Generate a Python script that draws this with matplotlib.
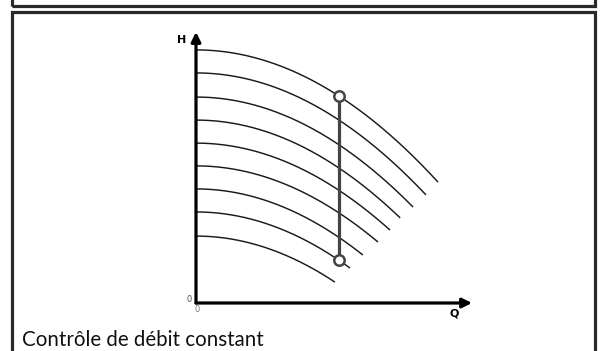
"""Constant-flow control diagram: pump curves at several speeds."""

import matplotlib
matplotlib.use("Agg")
import matplotlib.pyplot as plt
from matplotlib.patches import Rectangle
import numpy as np

# ---------------------------------------------------------------------------
# Data (arbitrary units)
# ---------------------------------------------------------------------------
shutoff_head = [9.34, 8.49, 7.60, 6.75, 5.90, 5.06, 4.21, 3.36, 2.47]
end_flow = [8.83, 8.39, 7.92, 7.45, 7.08, 6.64, 6.09, 5.62, 5.07]
end_head = [4.46, 3.99, 3.54, 3.14, 2.69, 2.25, 1.77, 1.29, 0.77]

control_flow = 5.22
control_curves = [0, 7]  # top and bottom curve touched by the control line

title = "Contrôle de débit constant"
x_label = "Q"
y_label = "H"


def pump_curve(i, q):
    h0, qe, he = shutoff_head[i], end_flow[i], end_head[i]
    return h0 - (h0 - he) * (q / qe) ** 2


W, H = 606, 351
fig = plt.figure(figsize=(W / 100, H / 100), dpi=100)
fig.patch.set_facecolor("white")

# frames
frame_kw = dict(transform=fig.transFigure, fill=False, lw=2.3,
                edgecolor="#2a2a2a", zorder=0)
fig.patches.append(Rectangle((11.5 / W, (H - 5.5) / H), 583 / W, 0.2, **frame_kw))
fig.patches.append(Rectangle((11.5 / W, -0.1), 583 / W, (H - 11.5) / H + 0.1,
                             **frame_kw))

ax = fig.add_axes([196 / W, 48 / H, 276 / W, 271 / H])
ax.set_xlim(0, 10.07)
ax.set_ylim(0, 10)
ax.axis("off")

# axes with arrow heads
arrow_kw = dict(arrowstyle="-|>", lw=2.3, color="black",
                mutation_scale=14, shrinkA=0, shrinkB=0)
ax.annotate("", xy=(1, 0), xytext=(0, 0), xycoords="axes fraction",
            arrowprops=arrow_kw, annotation_clip=False)
ax.annotate("", xy=(0, 1), xytext=(0, 0), xycoords="axes fraction",
            arrowprops=arrow_kw, annotation_clip=False)

ax.text(-0.035, 0.97, y_label, transform=ax.transAxes, ha="right", va="center",
        fontsize=8, fontweight="bold", family="DejaVu Sans")
ax.text(0.935, -0.04, x_label, transform=ax.transAxes, ha="center", va="center",
        fontsize=8, fontweight="bold", family="DejaVu Sans")
ax.text(-0.025, 0.012, "0", transform=ax.transAxes, ha="center", va="center",
        fontsize=6, color="#555555")
ax.text(0.004, -0.025, "0", transform=ax.transAxes, ha="center", va="center",
        fontsize=6, color="#777777")

# pump curves
for i in range(len(shutoff_head)):
    q = np.linspace(0, end_flow[i], 200)
    ax.plot(q, pump_curve(i, q), color="#1a1a1a", lw=1.05,
            solid_capstyle="butt", clip_on=False)

# constant-flow control line
h_top = pump_curve(control_curves[0], control_flow)
h_bot = pump_curve(control_curves[1], control_flow)
ax.plot([control_flow, control_flow], [h_top, h_bot], color="#444444", lw=2.3,
        clip_on=False, zorder=3)
ax.plot([control_flow, control_flow], [h_top, h_bot], linestyle="none",
        marker="o", markersize=7.5, markerfacecolor="white",
        markeredgecolor="#444444", markeredgewidth=1.8, clip_on=False, zorder=4)

fig.text(22 / W, (H - 340) / H, title, ha="left", va="center", fontsize=14.8,
         family="Lato", color="#111111")

fig.savefig("out.png", dpi=100, facecolor="white")
